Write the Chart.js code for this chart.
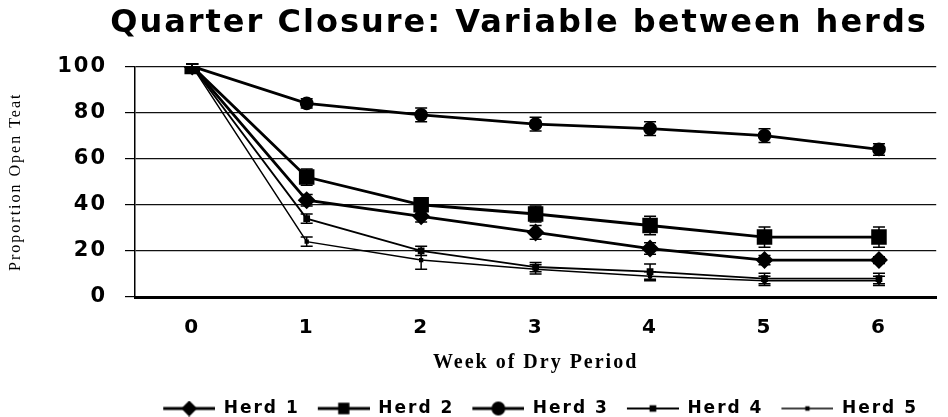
<!DOCTYPE html>
<html>
<head>
<meta charset="utf-8">
<script src="https://cdn.jsdelivr.net/npm/chart.js@4.4.1/dist/chart.umd.min.js"></script>
<style>
  html, body { margin: 0; padding: 0; background: #fff; }
  #wrap { width: 948px; height: 417px; }
</style>
</head>
<body>
<div id="wrap"><canvas id="chart" width="948" height="417"></canvas></div>
<script>
const weeks = ["0", "1", "2", "3", "4", "5", "6"];
const yTicks = [0, 20, 40, 60, 80, 100];

const herd1 = [100, 42, 35, 28, 21, 16, 16];
const herd2 = [100, 52, 40, 36, 31, 26, 26];
const herd3 = [100, 84, 79, 75, 73, 70, 64];
const herd4 = [100, 34, 20, 13, 11, 8, 8];
const herd5 = [100, 24, 16, 12, 9, 7, 7];

// +/- error per week
const err1 = [1, 2.5, 2.5, 3, 2.5, 2, 1.5];
const err2 = [1, 3.5, 3, 3.5, 4, 4.4, 4.4];
const err3 = [1, 2, 3, 3, 3, 3, 2.5];
const err4 = [1, 2, 2, 2, 3.3, 2.3, 2.3];
const err5 = [1, 2, 4, 2, 2, 2, 2];

const FONT_SANS = "'DejaVu Sans', Verdana, sans-serif";
const FONT_SERIF = "'Liberation Serif', 'DejaVu Serif', serif";

// legend swatch: line with the marker, drawn a bit right of centre
function legendIcon(style, radius, lineWidth) {
  const c = document.createElement("canvas");
  c.width = 62; c.height = 16;
  const g = c.getContext("2d");
  g.strokeStyle = "#000";
  g.fillStyle = "#000";
  g.lineWidth = lineWidth;
  g.beginPath(); g.moveTo(10, 8); g.lineTo(62, 8); g.stroke();
  Chart.helpers.drawPoint(g, { pointStyle: style, radius: radius, rotation: 0, borderWidth: 1 }, 36, 8);
  g.fill();
  return c;
}

function ds(label, data, errs, style, radius, width) {
  return {
    label, data, errs,
    borderColor: "#000",
    backgroundColor: "#000",
    borderWidth: width,
    pointStyle: style,
    pointRadius: radius,
    pointBackgroundColor: "#000",
    pointBorderColor: "#000",
    tension: 0,
    legendIcon: legendIcon(style, Math.min(radius, 6), width),
  };
}

const errorBars = {
  id: "errorBars",
  beforeUpdate(chart) {
    // the scanned figure has widely spaced lettering
    chart.ctx.letterSpacing = "2px";
  },
  afterLayout(chart) {
    // title sits a little right of centre in the original
    chart.titleBlock.left += 90;
  },
  afterDatasetsDraw(chart) {
    const { ctx, scales: { y } } = chart;
    ctx.save();
    ctx.strokeStyle = "#000";
    ctx.lineWidth = 1.5;
    chart.data.datasets.forEach((d, i) => {
      chart.getDatasetMeta(i).data.forEach((pt, j) => {
        const e = d.errs[j];
        const top = y.getPixelForValue(d.data[j] + e);
        const bot = y.getPixelForValue(d.data[j] - e);
        ctx.beginPath();
        ctx.moveTo(pt.x, top); ctx.lineTo(pt.x, bot);
        ctx.moveTo(pt.x - 6, top); ctx.lineTo(pt.x + 6, top);
        ctx.moveTo(pt.x - 6, bot); ctx.lineTo(pt.x + 6, bot);
        ctx.stroke();
      });
    });
    ctx.restore();
  },
};

new Chart(document.getElementById("chart"), {
  type: "line",
  data: {
    labels: weeks,
    datasets: [
      ds("Herd 1", herd1, err1, "rectRot", 7, 2.8),
      ds("Herd 2", herd2, err2, "rect", 9, 2.8),
      ds("Herd 3", herd3, err3, "circle", 5.5, 2.8),
      ds("Herd 4", herd4, err4, "rect", 3.5, 1.8),
      ds("Herd 5", herd5, err5, "rect", 2, 1.5),
    ],
  },
  options: {
    responsive: false,
    animation: false,
    layout: { padding: { top: 4, left: 0, right: 0, bottom: -10 } },
    plugins: {
      title: {
        display: true,
        text: "Quarter Closure: Variable between herds",
        color: "#000",
        font: { family: FONT_SANS, size: 32, weight: "bold" },
        padding: { top: 0, bottom: 24 },
      },
      legend: {
        position: "bottom",
        fullSize: false,
        labels: {
          color: "#000",
          font: { family: FONT_SANS, size: 17, weight: "bold" },
          usePointStyle: true,
          pointStyleWidth: 62,
          padding: 8,
          generateLabels(chart) {
            return chart.data.datasets.map((d, i) => ({
              text: d.label,
              pointStyle: d.legendIcon,
              fillStyle: "#000",
              strokeStyle: "#000",
              lineWidth: 0,
              fontColor: "#000",
              datasetIndex: i,
              hidden: false,
            }));
          },
        },
      },
      tooltip: { enabled: false },
    },
    scales: {
      x: {
        type: "category",
        offset: true,
        afterFit(scale) { scale.height = 95; },
        grid: { display: false, drawTicks: false },
        border: { display: true, color: "#000", width: 3 },
        ticks: { color: "#000", padding: 19, font: { family: FONT_SANS, size: 20, weight: "bold" } },
        title: {
          display: true,
          text: "Week of Dry Period",
          color: "#000",
          font: { family: FONT_SERIF, size: 20, weight: "bold" },
          padding: { top: 0, bottom: 17 },
        },
      },
      y: {
        min: 0,
        max: 100,
        afterFit(scale) { scale.width = 135; },
        afterBuildTicks(scale) { scale.ticks = yTicks.map((v) => ({ value: v })); },
        grid: { color: "#111", lineWidth: 1.2, drawTicks: true, tickLength: 10, tickColor: "#000" },
        border: { display: true, color: "#000", width: 1.5 },
        ticks: { color: "#000", padding: 18, font: { family: FONT_SANS, size: 21, weight: "bold" } },
        title: {
          display: true,
          text: "Proportion Open Teat",
          color: "#000",
          font: { family: FONT_SERIF, size: 16 },
          padding: { top: 6, bottom: 0 },
        },
      },
    },
  },
  plugins: [errorBars],
});
</script>
</body>
</html>
